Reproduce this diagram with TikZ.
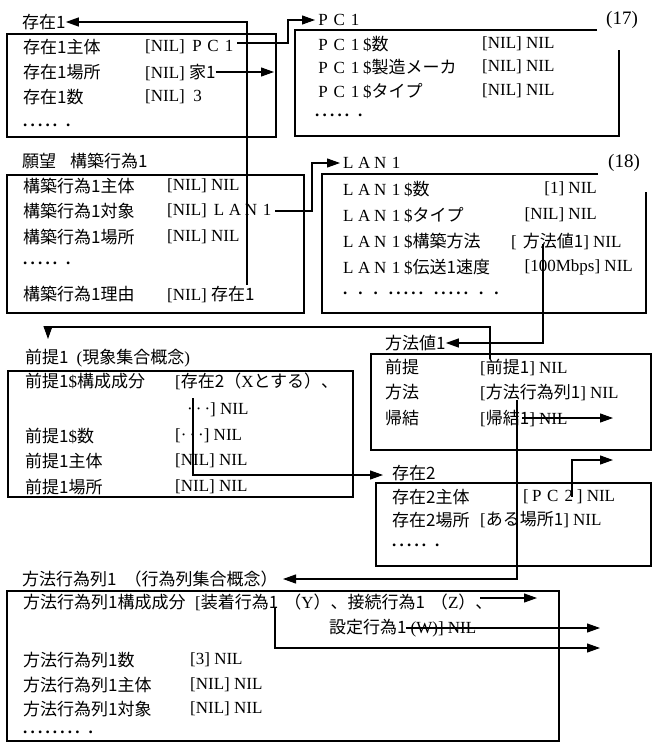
\documentclass[tikz,border=0pt]{standalone}
\usepackage{fontspec}
\setmainfont{Liberation Serif}
\newfontfamily\cjk{Noto Sans CJK JP}
\usetikzlibrary{arrows.meta}
\newcommand{\R}[1]{{\rmfamily\fontsize{17}{17}\selectfont #1}}
\newcommand{\fw}[1]{\makebox[16pt]{#1}}
\newcommand{\PCo}{\R{\fw{P}\fw{C}\fw{1}}}
\newcommand{\LANo}{\R{\fw{L}\fw{A}\fw{N}\fw{1}}}
\newcommand{\dd}{.\hspace{3.2pt}}
\newcommand{\Dt}{\R{\textbf{\dd\dd\dd\dd.\hspace{9pt}.}}}
\newcommand{\md}{\R{·\hspace{3pt}·\hspace{3pt}·}}
\begin{document}
\begin{tikzpicture}[x=1pt,y=-1pt,
  frame/.style={draw,line width=1.6pt},
  fbox/.style={frame,anchor=north west,inner sep=0pt},
  txt/.style={anchor=west,inner sep=0pt,font=\cjk\fontsize{17}{17}\selectfont},
  rtx/.style={txt,anchor=east},
  num/.style={anchor=west,inner sep=0pt,font=\rmfamily\fontsize{19}{19}\selectfont},
  conn/.style={draw,line width=1.1pt},
  tip/.style={-{Triangle[length=13pt,width=9pt]}}
]
\useasboundingbox[fill=white] (0,0) rectangle (654,744);

% ---------- frames ----------
\node[fbox,minimum width=269pt,minimum height=103pt] (f1) at (6,33) {};
\draw[frame] (597,30) -- (295,30) -- (295,136) -- (619,136) -- (619,50);
\node[fbox,minimum width=297pt,minimum height=138pt] (f3) at (6,174) {};
\draw[frame] (598,174) -- (322,174) -- (322,313) -- (646,313) -- (646,192);
\node[fbox,minimum width=345pt,minimum height=126pt] (f5) at (7,370) {};
\node[fbox,minimum width=280pt,minimum height=96pt] (f6) at (370,353) {};
\node[fbox,minimum width=275pt,minimum height=83pt] (f7) at (375,482) {};
\node[fbox,minimum width=552pt,minimum height=150pt] (f9) at (6,590) {};

% ---------- 存在1 ----------
\node[txt] (n1) at (22,22) {存在1};
\node[txt] (r1a) at (23,47) {存在1主体};
\node[txt] (v1a) at (145,47) {\R{[NIL] }\PCo};
\node[txt] (r1b) at (23,72) {存在1場所};
\node[txt] (v1b) at (145,72) {\R{[NIL] }家1};
\node[txt] (r1c) at (23,97) {存在1数};
\node[txt] (v1c) at (145,97) {\R{[NIL]\ \ 3}};
\node[txt] (r1d) at (23,125) {\Dt};

% ---------- PC1 ----------
\node[txt] (n2) at (315,20) {\PCo};
\node[num] (l17) at (606,20) {(17)};
\node[txt] (r2a) at (315,44) {\PCo\R{\$}数};
\node[txt] (v2a) at (482,44) {\R{[NIL] NIL}};
\node[txt] (r2b) at (315,67) {\PCo\R{\$}製造メーカ};
\node[txt] (v2b) at (482,67) {\R{[NIL] NIL}};
\node[txt] (r2c) at (315,91) {\PCo\R{\$}タイプ};
\node[txt] (v2c) at (482,91) {\R{[NIL] NIL}};
\node[txt] (r2d) at (315,115) {\Dt};

% ---------- 構築行為1 ----------
\node[txt] (n3) at (22,161) {願望\hspace{14pt}構築行為1};
\node[txt] (r3a) at (23,186) {構築行為1主体};
\node[txt] (v3a) at (167,186) {\R{[NIL] NIL}};
\node[txt] (r3b) at (23,211) {構築行為1対象};
\node[txt] (v3b) at (167,211) {\R{[NIL] }\LANo};
\node[txt] (r3c) at (23,237) {構築行為1場所};
\node[txt] (v3c) at (167,237) {\R{[NIL] NIL}};
\node[txt] (r3d) at (23,263) {\Dt};
\node[txt] (r3e) at (23,294) {構築行為1理由};
\node[txt] (v3e) at (167,294) {\R{[NIL] }存在1};

% ---------- LAN1 ----------
\node[txt] (n4) at (340,163) {\LANo};
\node[num] (l18) at (608,163) {(18)};
\node[txt] (r4a) at (340,189) {\LANo\R{\$}数};
\node[rtx] (v4a) at (597,189) {\R{[1] NIL}};
\node[txt] (r4b) at (340,215) {\LANo\R{\$}タイプ};
\node[rtx] (v4b) at (597,215) {\R{[NIL] NIL}};
\node[txt] (r4c) at (340,241) {\LANo\R{\$}構築方法};
\node[txt] (v4c) at (511,241) {\R{[}\hspace{6pt}方法値1\R{] NIL}};
\node[txt] (r4d) at (340,267) {\LANo\R{\$}伝送1速度};
\node[rtx] (v4d) at (633,267) {\R{[100Mbps] NIL}};
\node[txt] (r4e) at (343,293) {\R{\textbf{.\hspace{11pt}.\hspace{11pt}.\hspace{11pt}\dd\dd\dd\dd.\hspace{11pt}\dd\dd\dd\dd.\hspace{11pt}.\hspace{11pt}.}}};

% ---------- 前提1 ----------
\node[txt] (n5) at (25,358) {前提1\hspace{8pt}\R{(}現象集合概念\R{)}};
\node[txt] (r5a) at (25,381) {前提1\R{\$}構成成分};
\node[txt] (v5a) at (175,381) {\R{[}存在2（\R{X}とする）、};
\node[txt] (v5b) at (187,410) {\md\R{] NIL}};
\node[txt] (r5c) at (25,436) {前提1\R{\$}数};
\node[txt] (v5c) at (175,436) {\R{[}\md\R{] NIL}};
\node[txt] (r5d) at (25,461) {前提1主体};
\node[txt] (v5d) at (175,461) {\R{[NIL] NIL}};
\node[txt] (r5e) at (25,487) {前提1場所};
\node[txt] (v5e) at (175,487) {\R{[NIL] NIL}};

% ---------- 方法値1 ----------
\node[txt] (n6) at (385,343) {方法値1};
\node[txt] (r6a) at (385,367) {前提};
\node[txt] (v6a) at (480,367) {\R{[}前提1\R{] NIL}};
\node[txt] (r6b) at (385,392) {方法};
\node[txt] (v6b) at (480,392) {\R{[}方法行為列1\R{] NIL}};
\node[txt] (r6c) at (385,418) {帰結};
\node[txt] (v6c) at (480,418) {\R{[}帰結1\R{] NIL}};

% ---------- 存在2 ----------
\node[txt] (n7) at (392,473) {存在2};
\node[txt] (r7a) at (392,497) {存在2主体};
\node[txt] (v7a) at (523,497) {\R{[\fw{P}\fw{C}\fw{2}] NIL}};
\node[txt] (r7b) at (392,520) {存在2場所};
\node[txt] (v7b) at (480,520) {\R{[}ある場所1\R{] NIL}};
\node[txt] (r7c) at (392,545) {\Dt};

% ---------- 方法行為列1 ----------
\node[txt] (n9) at (22,579) {方法行為列1\hspace{8pt}（行為列集合概念）};
\node[txt] (r9a) at (23,602) {方法行為列1構成成分};
\node[txt] (v9a) at (195,602) {\R{[}装着行為1\hspace{6pt}（\R{Y}）、接続行為1\hspace{6pt}（\R{Z}）、};
\node[txt] (v9b) at (329,628) {設定行為1\hspace{4pt}\R{(W)] NIL}};
\node[txt] (r9c) at (23,660) {方法行為列1数};
\node[txt] (v9c) at (190,660) {\R{[3] NIL}};
\node[txt] (r9d) at (23,685) {方法行為列1主体};
\node[txt] (v9d) at (190,685) {\R{[NIL] NIL}};
\node[txt] (r9e) at (23,709) {方法行為列1対象};
\node[txt] (v9e) at (190,709) {\R{[NIL] NIL}};
\node[txt] (r9f) at (23,732) {\R{\textbf{\dd\dd\dd\dd\dd\dd\dd.\hspace{9pt}.}}};

% ---------- connector points ----------
\coordinate (k1) at (288,43);
\coordinate (k2) at (274,72);
\coordinate (k3) at (247,285);
\coordinate (k4) at (312,211);
\coordinate (k5) at (543,244);
\coordinate (k6) at (490,359);
\coordinate (k6a) at (48,327);
\coordinate (k6b) at (48,339);
\coordinate (k7) at (193,398);
\coordinate (k7b) at (383,475);
\coordinate (k8) at (517,400);
\coordinate (k8b) at (283,579);
\coordinate (k9) at (522,418);
\coordinate (k9b) at (613,418);
\coordinate (k10) at (572,497);
\coordinate (k10b) at (613,460);
\coordinate (k11) at (480,598);
\coordinate (k11b) at (537,598);
\coordinate (k12) at (406,628);
\coordinate (k12b) at (600,628);
\coordinate (k13) at (275,607);
\coordinate (k13b) at (600,648);

% ---------- connectors ----------
\draw[conn,tip] (v1a.east |- k1) -- (k1) |- (n2.west);
\draw[conn,tip] (v1b.east) -- (k2);
\draw[conn,tip] (k3) |- (n1.east);
\draw[conn,tip] (v3b.east) -- (k4) |- (n4.west);
\draw[conn,tip] (k5) |- (n6.east);
\draw[conn,tip] (k6) |- (k6a) -- (k6b);
\draw[conn,tip] (k7) |- (k7b);
\draw[conn,tip] (k8) |- (k8b);
\draw[conn,tip] (k9) -- (k9b);
\draw[conn,tip] (k10) |- (k10b);
\draw[conn,tip] (k11) -- (k11b);
\draw[conn,tip] (k12) -- (k12b);
\draw[conn,tip] (k13) |- (k13b);
\end{tikzpicture}
\end{document}
